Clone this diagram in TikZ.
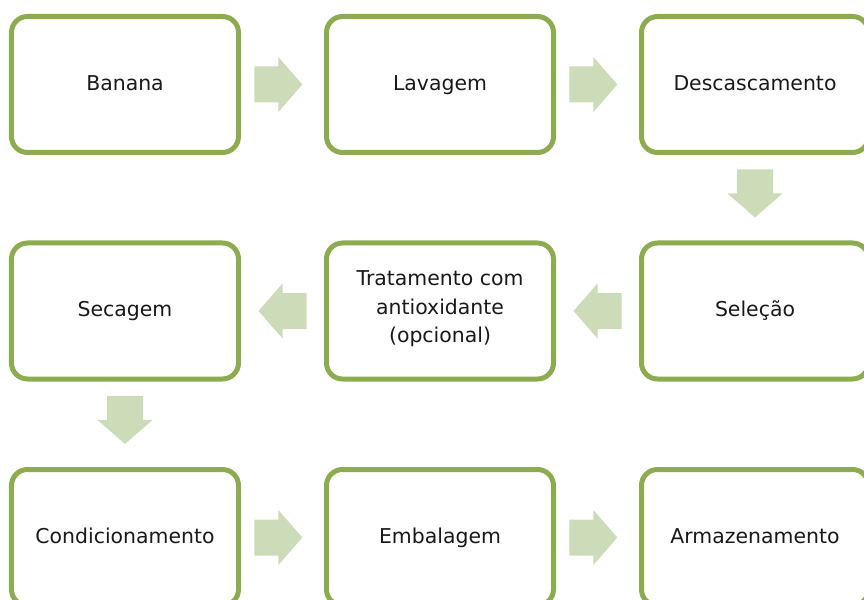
\documentclass[tikz,border=0pt]{standalone}
\usepackage{fontspec}
\setmainfont{DejaVu Sans}
\usepackage{xcolor}
\definecolor{boxgreen}{RGB}{141,172,80}
\definecolor{arrowgreen}{RGB}{205,220,184}
\definecolor{stagetext}{RGB}{25,25,25}
\usepackage{tikz}
\usetikzlibrary{calc}
\newcommand{\widthstage}{227bp}
\newcommand{\heightstage}{136bp}
\tikzset{
    stage/.style={draw=boxgreen, line width=5bp, rounded corners=16bp, fill=white,
        minimum width=\widthstage, minimum height=\heightstage, inner sep=0pt,
        align=center, text=stagetext, font=\fontsize{20.5}{28.5}\selectfont,
        execute at begin node=\strut, execute at end node=\strut},
    flowarrow/.pic={
        \fill[arrowgreen] (-24,-18) -- (0,-18) -- (0,-27.5) -- (24,0) -- (0,27.5) -- (0,18) -- (-24,18) -- cycle;
    }
}

\begin{document}
\begin{tikzpicture}[x=1bp, y=-1bp]
      \useasboundingbox (0,0) rectangle (864,600);

      \path
          (125,84.5) node[stage] (banana) {Banana}
          +(315,0) node[stage] (lavagem) {Lavagem}
          +(630,0) node[stage] (descasc) {Descascamento}
          ++(0,226.5) node[stage] (secagem) {Secagem}
          +(315,0) node[stage] (tratamento) {Tratamento com\\antioxidante\\(opcional)}
          +(630,0) node[stage] (selecao) {Seleção}
          ++(0,226.5) node[stage] (condic) {Condicionamento}
          +(315,0) node[stage] (embalagem) {Embalagem}
          +(630,0) node[stage] (armazen) {Armazenamento};

      % row 1, left to right
      \pic at ($(banana.east)!0.45!(lavagem.west)$) {flowarrow};
      \pic at ($(lavagem.east)!0.45!(descasc.west)$) {flowarrow};
      \pic[rotate=-90] at ($(descasc.south)!0.45!(selecao.north)$) {flowarrow};

      % row 2, right to left
      \pic[rotate=180] at ($(selecao.west)!0.5!(tratamento.east)$) {flowarrow};
      \pic[rotate=180] at ($(tratamento.west)!0.5!(secagem.east)$) {flowarrow};
      \pic[rotate=-90] at ($(secagem.south)!0.45!(condic.north)$) {flowarrow};

      % row 3
      \pic at ($(condic.east)!0.45!(embalagem.west)$) {flowarrow};
      \pic at ($(embalagem.east)!0.45!(armazen.west)$) {flowarrow};
\end{tikzpicture}
\end{document}
